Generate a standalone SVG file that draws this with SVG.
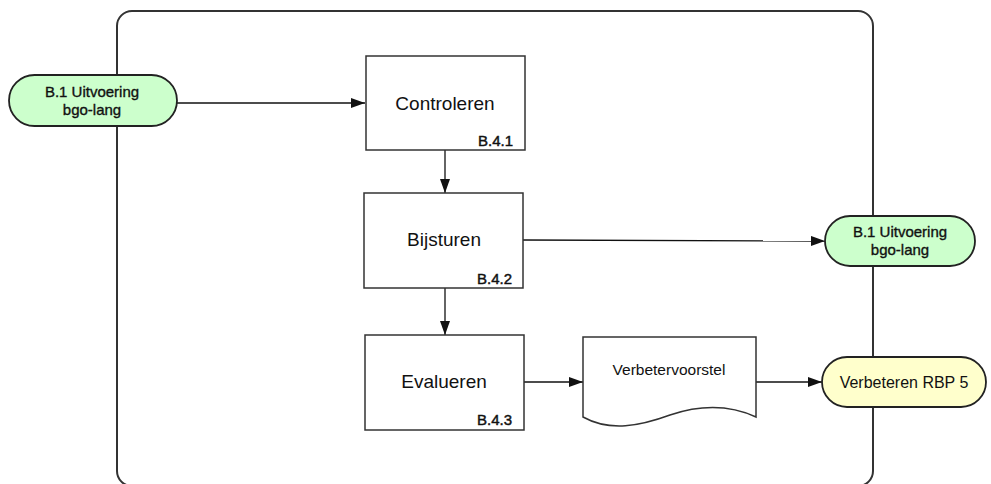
<svg xmlns="http://www.w3.org/2000/svg" width="991" height="484" viewBox="0 0 991 484">
<style>
.frame{fill:none;stroke:#333;stroke-width:2}
.box{fill:#fff;stroke:#333;stroke-width:1.5}
.green{fill:#ccffcc;stroke:#222;stroke-width:1.8}
.yellow{fill:#ffffcc;stroke:#222;stroke-width:1.8}
.lbl{font-family:"Liberation Sans",Arial,sans-serif;font-size:19px;fill:#111;text-anchor:middle}
.id{font-family:"Liberation Sans",Arial,sans-serif;font-size:15px;fill:#111;stroke:#111;stroke-width:0.45;text-anchor:end}
.pill{font-family:"Liberation Sans",Arial,sans-serif;font-size:15px;fill:#111;stroke:#111;stroke-width:0.35;text-anchor:middle}
.pillr{font-family:"Liberation Sans",Arial,sans-serif;font-size:16px;fill:#111;text-anchor:middle}
.doc{font-family:"Liberation Sans",Arial,sans-serif;font-size:15.5px;fill:#111;text-anchor:middle}
.conn{fill:none;stroke:#111;stroke-width:1.3;marker-end:url(#arr)}
</style>
<defs>
<marker id="arr" viewBox="0 0 14 10" refX="14" refY="5" markerWidth="14" markerHeight="10" markerUnits="userSpaceOnUse" orient="auto">
<path d="M0,0 L14,5 L0,10 z" fill="#111"/>
</marker>
</defs>
<rect class="frame" x="117" y="11" width="756" height="475" rx="15"/>
<g id="connectors">
<line class="conn" x1="177" y1="103" x2="365" y2="103"/>
<line class="conn" x1="445" y1="150" x2="445" y2="193"/>
<line class="conn" x1="445" y1="288" x2="445" y2="335"/>
<line class="conn" x1="523" y1="240" x2="825" y2="241"/>
<line class="conn" x1="524" y1="382" x2="583" y2="382"/>
<line class="conn" x1="756" y1="382" x2="822" y2="382"/>
</g>
<g id="start">
<rect class="green" x="9" y="75" width="168" height="51" rx="25.5"/>
<text class="pill" x="92" y="97">B.1 Uitvoering</text>
<text class="pill" x="92" y="115">bgo-lang</text>
</g>
<g id="b41">
<rect class="box" x="366" y="56" width="159" height="94"/>
<text class="lbl" x="445" y="110">Controleren</text>
<text class="id" x="513" y="146">B.4.1</text>
</g>
<g id="b42">
<rect class="box" x="364" y="193" width="159" height="95"/>
<text class="lbl" x="444" y="246">Bijsturen</text>
<text class="id" x="512" y="284">B.4.2</text>
</g>
<g id="b43">
<rect class="box" x="365" y="335" width="159" height="95"/>
<text class="lbl" x="444" y="388">Evalueren</text>
<text class="id" x="512" y="425">B.4.3</text>
</g>
<g id="end-green">
<rect class="green" x="825" y="216" width="150" height="50" rx="25"/>
<text class="pill" x="900" y="237">B.1 Uitvoering</text>
<text class="pill" x="900" y="255">bgo-lang</text>
</g>
<g id="doc">
<path class="box" d="M583,337 L756,337 L756,417 C730,405 700,405 670,415 C640,426 610,432 583,417 Z"/>
<text class="doc" x="669" y="375">Verbetervoorstel</text>
</g>
<g id="end-yellow">
<rect class="yellow" x="822" y="357" width="164" height="50" rx="25"/>
<text class="pillr" x="904" y="388">Verbeteren RBP 5</text>
</g>
</svg>
